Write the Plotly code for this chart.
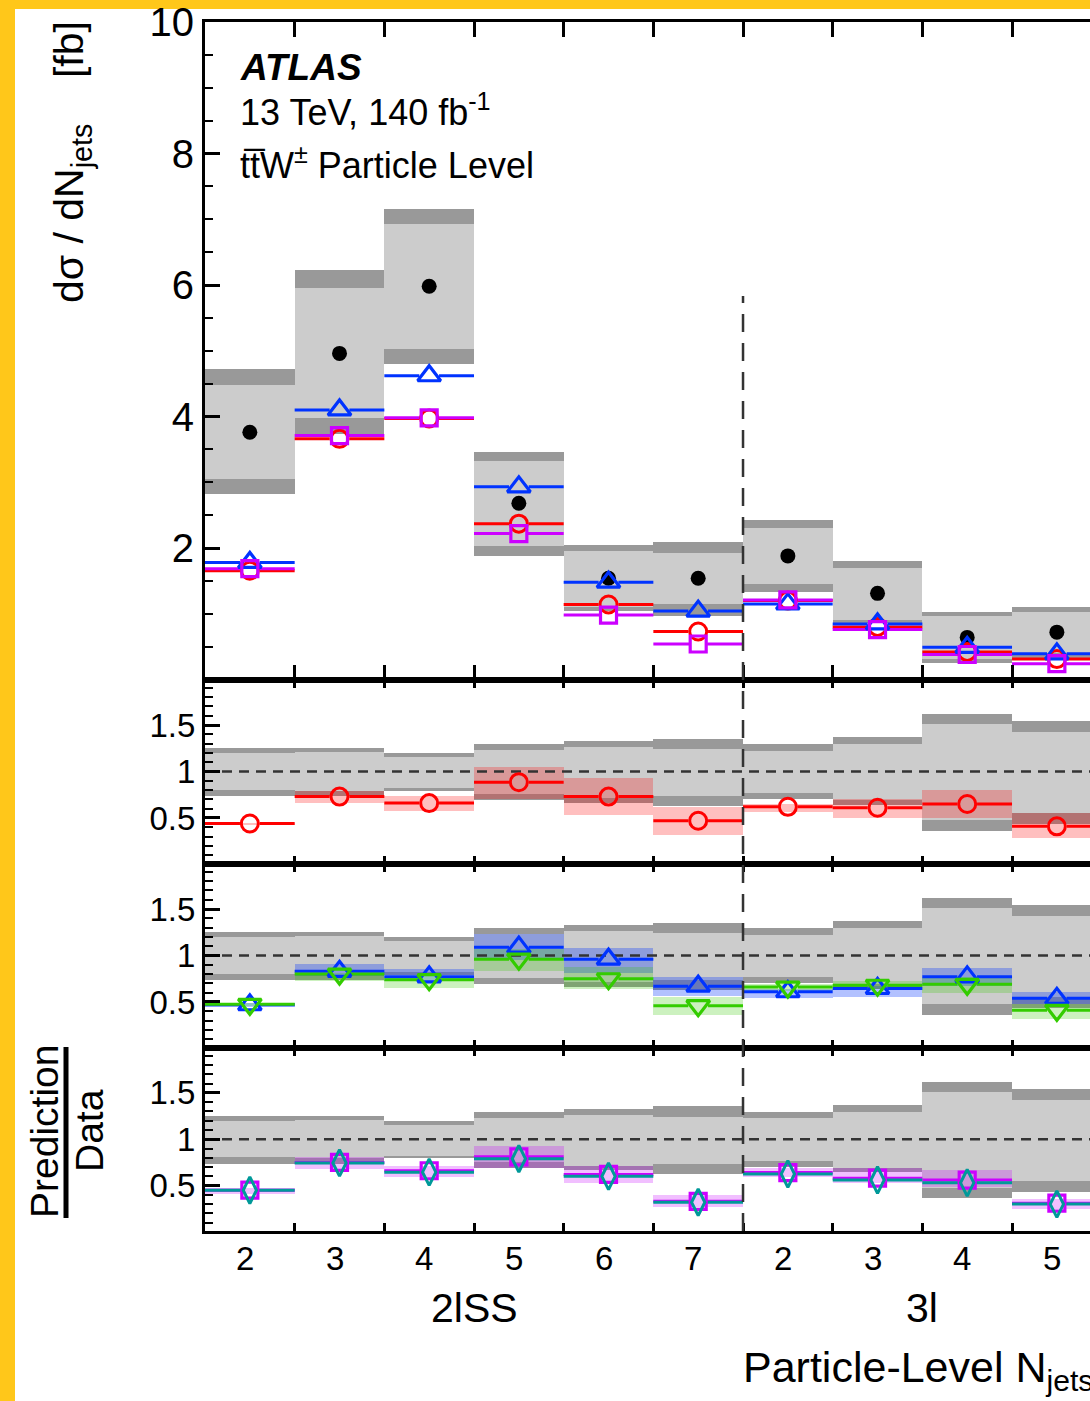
import plotly.graph_objects as go

# ---------------- data ----------------
bin_labels = ["2", "3", "4", "5", "6", "7", "2", "3", "4", "5"]
region_labels = ["2lSS", "3l"]
region_centers = [3.0, 8.0]
separator_x = 6

data_xsec = [3.76, 4.96, 5.98, 2.68, 1.54, 1.54, 1.88, 1.31, 0.64, 0.72]
tot_hi = [4.72, 6.23, 7.16, 3.46, 2.04, 2.09, 2.43, 1.80, 1.02, 1.11]
stat_hi = [4.48, 5.95, 6.93, 3.32, 1.96, 1.92, 2.30, 1.70, 0.96, 1.03]
stat_lo = [3.05, 3.97, 5.03, 2.03, 1.11, 1.15, 1.45, 0.905, 0.31, 0.40]
tot_lo = [2.82, 3.73, 4.80, 1.88, 1.04, 0.97, 1.33, 0.86, 0.25, 0.32]

red_xsec = [1.655, 3.66, 3.97, 2.37, 1.14, 0.73, 1.20, 0.80, 0.42, 0.31]
blue_xsec = [1.78, 4.10, 4.62, 2.93, 1.48, 1.04, 1.15, 0.845, 0.49, 0.39]
mag_xsec = [1.685, 3.71, 3.98, 2.22, 0.98, 0.54, 1.21, 0.76, 0.38, 0.24]

# ratio: data uncertainty band (relative)
r_tot_hi = [1.26, 1.26, 1.20, 1.30, 1.33, 1.36, 1.30, 1.38, 1.62, 1.55]
r_stat_hi = [1.20, 1.21, 1.16, 1.24, 1.27, 1.245, 1.23, 1.30, 1.52, 1.43]
r_stat_lo = [0.81, 0.80, 0.83, 0.76, 0.72, 0.74, 0.77, 0.70, 0.48, 0.56]
r_tot_lo = [0.74, 0.74, 0.80, 0.70, 0.67, 0.63, 0.71, 0.65, 0.37, 0.44]

red_ratio = [0.44, 0.73, 0.66, 0.885, 0.73, 0.47, 0.62, 0.61, 0.65, 0.41]
red_lo = [0.435, 0.67, 0.58, 0.71, 0.54, 0.32, 0.57, 0.51, 0.50, 0.29]
red_hi = [0.45, 0.80, 0.74, 1.05, 0.94, 0.62, 0.66, 0.71, 0.81, 0.56]

blue_ratio = [0.47, 0.83, 0.77, 1.09, 0.96, 0.67, 0.61, 0.645, 0.77, 0.54]
blue_lo = [0.45, 0.79, 0.73, 0.96, 0.82, 0.57, 0.55, 0.555, 0.68, 0.48]
blue_hi = [0.49, 0.91, 0.86, 1.24, 1.09, 0.77, 0.645, 0.68, 0.87, 0.61]

green_ratio = [0.475, 0.80, 0.74, 0.96, 0.75, 0.46, 0.66, 0.68, 0.69, 0.41]
green_lo = [0.46, 0.73, 0.66, 0.84, 0.645, 0.36, 0.62, 0.645, 0.60, 0.32]
green_hi = [0.49, 0.82, 0.79, 1.075, 0.88, 0.56, 0.70, 0.735, 0.77, 0.48]

mag_ratio = [0.45, 0.75, 0.66, 0.81, 0.62, 0.33, 0.64, 0.58, 0.56, 0.31]
mag_lo = [0.42, 0.68, 0.60, 0.695, 0.53, 0.27, 0.60, 0.53, 0.49, 0.25]
mag_hi = [0.475, 0.81, 0.72, 0.93, 0.72, 0.40, 0.69, 0.69, 0.67, 0.365]

teal_ratio = [0.45, 0.745, 0.645, 0.79, 0.60, 0.32, 0.625, 0.56, 0.53, 0.30]

# ---------------- style ----------------
FONT = "Liberation Sans, Arial, Helvetica, sans-serif"
RED = "#FF0000"
BLUE = "#0033FF"
MAG = "#CC00FF"
GREEN = "#33CC00"
TEAL = "#009999"
LGRAY = "#CCCCCC"
DGRAY = "#999999"

W, H = 1090, 1401
ML, MT = 205, 22
PLOT_BOTTOM = 1231
MR, MB = 0, H - PLOT_BOTTOM
PW = W - ML - MR
PH = PLOT_BOTTOM - MT
BINW = 89.67
XMAX = PW / BINW


def px_x(px):
    return (px - ML) / PW


def px_y(py):
    return (PLOT_BOTTOM - py) / PH


n = len(bin_labels)
centers = [i + 0.5 for i in range(n)]
edges = list(range(1, n))

fig = go.Figure()


def band(lo, hi, color, ax):
    fig.add_trace(go.Bar(
        x=centers, base=lo, y=[h - l for l, h in zip(lo, hi)], width=1.0,
        marker=dict(color=color, line=dict(width=0)),
        xaxis="x" + ax, yaxis="y" + ax, showlegend=False, hoverinfo="skip"))


def step_line(vals, color, ax, gap, width=3):
    xs, ys = [], []
    for i, v in enumerate(vals):
        c = centers[i]
        xs += [i, c - gap, None, c + gap, i + 1, None]
        ys += [v, v, None, v, v, None]
    fig.add_trace(go.Scatter(
        x=xs, y=ys, mode="lines", line=dict(color=color, width=width),
        xaxis="x" + ax, yaxis="y" + ax, showlegend=False, hoverinfo="skip",
        connectgaps=False))


def markers(vals, color, symbol, size, ax, lw=3):
    fig.add_trace(go.Scatter(
        x=centers, y=vals, mode="markers",
        marker=dict(symbol=symbol, size=size, color=color,
                    line=dict(color=color, width=lw)),
        xaxis="x" + ax, yaxis="y" + ax, showlegend=False, hoverinfo="skip",
        cliponaxis=True))


def unity(ax):
    fig.add_trace(go.Scatter(
        x=[0, n], y=[1, 1], mode="lines",
        line=dict(color="#333333", width=2.5, dash="10px,7px"),
        xaxis="x" + ax, yaxis="y" + ax, showlegend=False, hoverinfo="skip"))


# ---- main panel ----
band(tot_lo, tot_hi, DGRAY, "")
band(stat_lo, stat_hi, LGRAY, "")
fig.add_trace(go.Scatter(
    x=centers, y=data_xsec, mode="markers",
    marker=dict(symbol="circle", size=15, color="black"),
    showlegend=False, hoverinfo="skip"))
step_line(red_xsec, RED, "", 0.11)
step_line(blue_xsec, BLUE, "", 0.11)
step_line(mag_xsec, MAG, "", 0.10)
markers(red_xsec, RED, "circle-open", 17, "")
markers(blue_xsec, BLUE, "triangle-up-open", 20, "", lw=3.2)
markers(mag_xsec, MAG, "square-open", 16, "", lw=3.2)

# ---- ratio panels ----
for ax in ["2", "3", "4"]:
    band(r_tot_lo, r_tot_hi, DGRAY, ax)
    band(r_stat_lo, r_stat_hi, LGRAY, ax)

band(red_lo, red_hi, "rgba(255,0,0,0.25)", "2")
unity("2")
step_line(red_ratio, RED, "2", 0.11)
markers(red_ratio, RED, "circle-open", 17, "2")

band(blue_lo, blue_hi, "rgba(0,50,255,0.30)", "3")
band(green_lo, green_hi, "rgba(50,200,0,0.25)", "3")
unity("3")
step_line(blue_ratio, BLUE, "3", 0.11)
step_line(green_ratio, GREEN, "3", 0.11)
markers(blue_ratio, BLUE, "triangle-up-open", 20, "3", lw=3.2)
markers(green_ratio, GREEN, "triangle-down-open", 20, "3", lw=3.2)

band(mag_lo, mag_hi, "rgba(200,0,255,0.25)", "4")
unity("4")
step_line(mag_ratio, MAG, "4", 0.10)
step_line(teal_ratio, TEAL, "4", 0.07)
markers(mag_ratio, MAG, "square-open", 16, "4", lw=3.2)
markers(teal_ratio, TEAL, "diamond-tall-open", 19, "4")

# ---------------- axes ----------------
main_bottom = px_y(679.5)
r1_bottom = px_y(863.5)
r2_bottom = px_y(1047.5)

xcommon = dict(range=[0, XMAX], tickmode="array", tickvals=edges,
               showticklabels=False, ticks="inside", tickwidth=2.5,
               tickcolor="black", showline=True, linewidth=3,
               linecolor="black", mirror="ticks", showgrid=False,
               zeroline=False)

ycommon = dict(ticks="inside", ticklen=15, tickwidth=2.5, tickcolor="black",
               showline=True, linewidth=3, linecolor="black", mirror=False,
               showgrid=False, zeroline=False,
               tickfont=dict(family=FONT, size=33, color="black"))

layout = dict(
    width=W, height=H,
    margin=dict(l=ML, r=MR, t=MT, b=MB, pad=0),
    paper_bgcolor="#FFC71A", plot_bgcolor="white",
    barmode="overlay", bargap=0, showlegend=False,
    font=dict(family=FONT, color="black"),
    xaxis=dict(xcommon, domain=[0, 1], anchor="y", ticklen=15),
    xaxis2=dict(xcommon, domain=[0, 1], anchor="y2", matches="x", ticklen=8),
    xaxis3=dict(xcommon, domain=[0, 1], anchor="y3", matches="x", ticklen=8),
    xaxis4=dict(xcommon, domain=[0, 1], anchor="y4", matches="x", ticklen=8),
    yaxis=dict(ycommon, domain=[main_bottom, 1], anchor="x", range=[0, 10],
               tickmode="array", tickvals=[2, 4, 6, 8, 10],
               ticktext=["2", "4", "6", "8", "10"],
               tickfont=dict(family=FONT, size=40, color="black"),
               minor=dict(tickmode="linear", tick0=0, dtick=0.5, ticks="inside",
                          ticklen=8, tickwidth=2, tickcolor="black")),
)
ratio_domains = [[r1_bottom, main_bottom], [r2_bottom, r1_bottom], [0, r2_bottom]]
for k, dom in zip(["2", "3", "4"], ratio_domains):
    layout["yaxis" + k] = dict(
        ycommon, domain=dom, anchor="x" + k, range=[0.01, 1.99],
        tickmode="array", tickvals=[0.5, 1, 1.5], ticktext=["0.5", "1", "1.5"],
        minor=dict(tickmode="linear", tick0=0, dtick=0.1, ticks="inside",
                   ticklen=8, tickwidth=2, tickcolor="black"))
fig.update_layout(**layout)

# ---------------- shapes ----------------
fig.add_shape(type="rect", xref="paper", yref="paper",
              x0=px_x(15), x1=px_x(W + 5), y0=px_y(H + 5), y1=px_y(9),
              fillcolor="white", line=dict(width=0), layer="below")
fig.add_shape(type="line", xref="x", yref="paper",
              x0=separator_x, x1=separator_x, y0=0, y1=px_y(296),
              line=dict(color="#333333", width=2.5, dash="18px,11px"))
# fraction bar of ratio title
fig.add_shape(type="line", xref="paper", yref="paper",
              x0=px_x(66), x1=px_x(66), y0=px_y(1218), y1=px_y(1047),
              line=dict(color="black", width=5))

# ---------------- text ----------------
ann = []
for c, lab in zip(centers, bin_labels):
    ann.append(dict(x=c, y=px_y(1258), xref="x4", yref="paper", text=lab,
                    showarrow=False, xanchor="center", yanchor="middle",
                    xshift=-5,
                    font=dict(family=FONT, size=33, color="black")))
for c, lab in zip(region_centers, region_labels):
    ann.append(dict(x=c, y=px_y(1308), xref="x4", yref="paper", text=lab,
                    showarrow=False, xanchor="center", yanchor="middle",
                    font=dict(family=FONT, size=41, color="black")))
ann.append(dict(x=px_x(741), y=px_y(1370), xref="paper", yref="paper",
                text="Particle-Level N<sub>jets</sub>", showarrow=False,
                xanchor="left", yanchor="middle",
                font=dict(family=FONT, size=43, color="black")))
ann.append(dict(x=px_x(238), y=px_y(67), xref="paper", yref="paper",
                text="<b><i>ATLAS</i></b>", showarrow=False,
                xanchor="left", yanchor="middle",
                font=dict(family=FONT, size=37, color="black")))
ann.append(dict(x=px_x(238), y=px_y(110), xref="paper", yref="paper",
                text="13 TeV, 140 fb<sup>-1</sup>", showarrow=False,
                xanchor="left", yanchor="middle",
                font=dict(family=FONT, size=36, color="black")))
ann.append(dict(x=px_x(238), y=px_y(163), xref="paper", yref="paper",
                text="tt\u0305W<sup>\u00b1</sup> Particle Level", showarrow=False,
                xanchor="left", yanchor="middle",
                font=dict(family=FONT, size=36, color="black")))
ann.append(dict(x=px_x(72), y=px_y(162), xref="paper", yref="paper",
                text="d\u03c3 / dN<sub>jets</sub>\u00a0\u00a0\u00a0\u00a0[fb]",
                textangle=-90, showarrow=False,
                xanchor="center", yanchor="middle",
                font=dict(family=FONT, size=41, color="black")))
ann.append(dict(x=px_x(44), y=px_y(1132), xref="paper", yref="paper",
                text="Prediction", textangle=-90, showarrow=False,
                xanchor="center", yanchor="middle",
                font=dict(family=FONT, size=39, color="black")))
ann.append(dict(x=px_x(89), y=px_y(1131), xref="paper", yref="paper",
                text="Data", textangle=-90, showarrow=False,
                xanchor="center", yanchor="middle",
                font=dict(family=FONT, size=39, color="black")))
fig.update_layout(annotations=ann)

fig.write_html(
    "out.html",
    config={"displayModeBar": False},
    post_script="document.body.style.margin='0px';"
                "document.body.style.overflow='hidden';")
